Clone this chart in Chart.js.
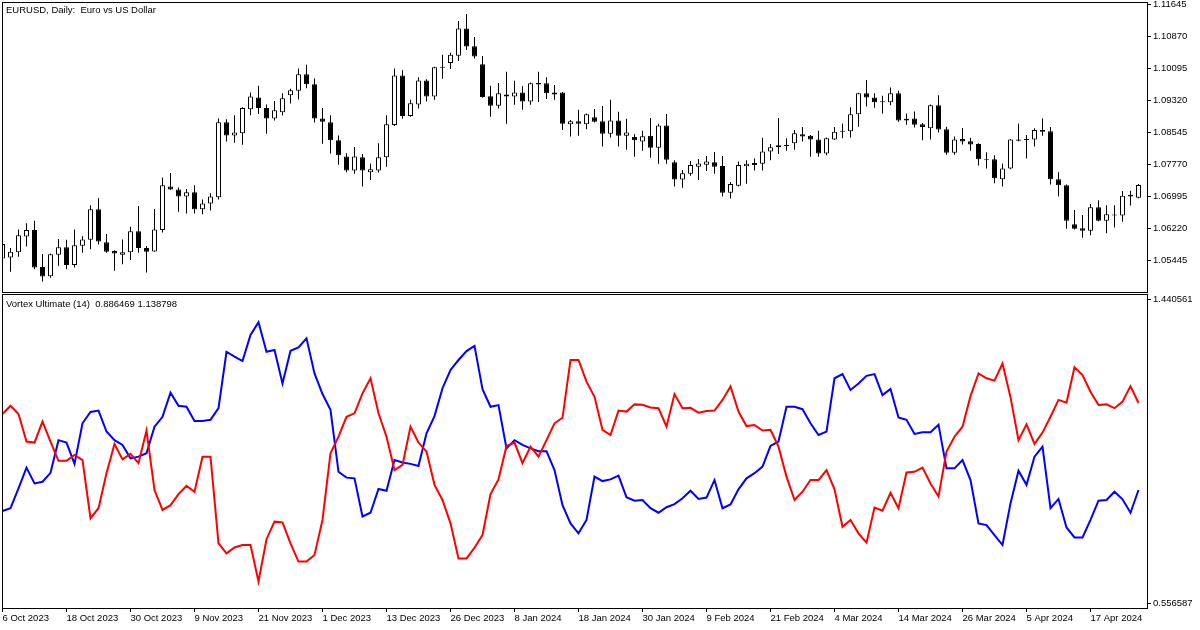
<!DOCTYPE html>
<html>
<head>
<meta charset="utf-8">
<title>EURUSD Daily with Vortex</title>
<script src="https://cdn.jsdelivr.net/npm/chart.js@4.4.1/dist/chart.umd.min.js"></script>
<style>
  html, body { margin: 0; padding: 0; background: #fff; }
  #wrap { position: relative; width: 1200px; height: 630px; overflow: hidden; background: #fff; }
  canvas { position: absolute; left: 0; }
  #priceChart { top: 0; }
  #vortexChart { top: 293px; }
</style>
</head>
<body>
<div id="wrap">
  <canvas id="priceChart" width="1200" height="293"></canvas>
  <canvas id="vortexChart" width="1200" height="337"></canvas>
</div>
<script>
// EURUSD daily bars, 6 Oct 2023 .. late Apr 2024
const opens = [
  1.0550, 1.0552, 1.0565, 1.0603, 1.0619, 1.0529, 1.0507, 1.0559, 1.0577, 1.0534,
  1.0581, 1.0595, 1.0669, 1.0589, 1.0568, 1.0559, 1.0565, 1.0616, 1.0575, 1.0567,
  1.0619, 1.0724, 1.0717, 1.0700, 1.0710, 1.0669, 1.0683, 1.0698, 1.0880, 1.0848,
  1.0853, 1.0911, 1.0940, 1.0914, 1.0889, 1.0904, 1.0945, 1.0956, 1.0996, 1.0972,
  1.0889, 1.0880, 1.0836, 1.0797, 1.0763, 1.0795, 1.0759, 1.0763, 1.0795, 1.0873,
  1.0993, 1.0895, 1.0923, 1.0981, 1.0942, 1.1012, 1.1023, 1.1041, 1.1107, 1.1064,
  1.1020, 1.0943, 1.0920, 1.0947, 1.0942, 1.0952, 1.0930, 1.0975, 1.0974, 1.0947,
  1.0952, 1.0875, 1.0882, 1.0875, 1.0892, 1.0882, 1.0852, 1.0884, 1.0847, 1.0844,
  1.0833, 1.0847, 1.0818, 1.0872, 1.0783, 1.0741, 1.0755, 1.0772, 1.0777, 1.0783,
  1.0774, 1.0709, 1.0726, 1.0773, 1.0776, 1.0779, 1.0809, 1.0819, 1.0824, 1.0829,
  1.0851, 1.0847, 1.0838, 1.0804, 1.0838, 1.0857, 1.0858, 1.0899, 1.0950, 1.0940,
  1.0928, 1.0928, 1.0950, 1.0888, 1.0889, 1.0875, 1.0865, 1.0921, 1.0863, 1.0806,
  1.0839, 1.0834, 1.0827, 1.0790, 1.0790, 1.0742, 1.0768, 1.0838, 1.0837, 1.0838,
  1.0861, 1.0858, 1.0742, 1.0727, 1.0633, 1.0623, 1.0617, 1.0674, 1.0641, 1.0654,
  1.0654, 1.0704, 1.0697
];
const highs = [
  1.0588, 1.0575, 1.0620, 1.0635, 1.0641, 1.0561, 1.0562, 1.0597, 1.0595, 1.0620,
  1.0604, 1.0679, 1.0696, 1.0609, 1.0570, 1.0596, 1.0627, 1.0677, 1.0580, 1.0670,
  1.0746, 1.0757, 1.0722, 1.0718, 1.0727, 1.0693, 1.0708, 1.0889, 1.0887, 1.0897,
  1.0916, 1.0952, 1.0968, 1.0923, 1.0931, 1.0950, 1.0961, 1.1010, 1.1019, 1.0986,
  1.0914, 1.0897, 1.0848, 1.0805, 1.0820, 1.0803, 1.0780, 1.0829, 1.0897, 1.1010,
  1.1006, 1.0934, 1.0989, 1.0984, 1.1014, 1.1043, 1.1048, 1.1125, 1.1142, 1.1086,
  1.1040, 1.0968, 1.0975, 1.1002, 1.0980, 1.0967, 1.0976, 1.1002, 1.0989, 1.0970,
  1.0953, 1.0885, 1.0910, 1.0901, 1.0912, 1.0919, 1.0934, 1.0905, 1.0888, 1.0851,
  1.0859, 1.0890, 1.0876, 1.0900, 1.0788, 1.0764, 1.0786, 1.0791, 1.0798, 1.0808,
  1.0798, 1.0735, 1.0785, 1.0788, 1.0792, 1.0842, 1.0827, 1.0890, 1.0841, 1.0861,
  1.0868, 1.0849, 1.0859, 1.0843, 1.0868, 1.0877, 1.0916, 1.0951, 1.0982, 1.0950,
  1.0944, 1.0964, 1.0956, 1.0901, 1.0906, 1.0878, 1.0923, 1.0945, 1.0869, 1.0845,
  1.0866, 1.0842, 1.0829, 1.0807, 1.0800, 1.0780, 1.0839, 1.0877, 1.0849, 1.0865,
  1.0889, 1.0868, 1.0759, 1.0729, 1.0667, 1.0655, 1.0682, 1.0691, 1.0679, 1.0679,
  1.0713, 1.0714, 1.0730
];
const lows = [
  1.0548, 1.0518, 1.0554, 1.0579, 1.0524, 1.0494, 1.0503, 1.0532, 1.0524, 1.0528,
  1.0564, 1.0572, 1.0584, 1.0564, 1.0520, 1.0536, 1.0546, 1.0564, 1.0516, 1.0566,
  1.0613, 1.0716, 1.0663, 1.0659, 1.0659, 1.0657, 1.0666, 1.0693, 1.0833, 1.0830,
  1.0825, 1.0897, 1.0900, 1.0852, 1.0884, 1.0896, 1.0925, 1.0935, 1.0962, 1.0879,
  1.0828, 1.0804, 1.0777, 1.0759, 1.0755, 1.0724, 1.0740, 1.0758, 1.0772, 1.0871,
  1.0888, 1.0893, 1.0913, 1.0930, 1.0934, 1.0985, 1.1009, 1.1028, 1.1055, 1.1034,
  1.0939, 1.0893, 1.0913, 1.0876, 1.0922, 1.0910, 1.0922, 1.0929, 1.0936, 1.0934,
  1.0861, 1.0845, 1.0847, 1.0863, 1.0879, 1.0821, 1.0843, 1.0821, 1.0813, 1.0796,
  1.0811, 1.0794, 1.0779, 1.0779, 1.0724, 1.0721, 1.0750, 1.0740, 1.0762, 1.0755,
  1.0700, 1.0695, 1.0724, 1.0731, 1.0763, 1.0763, 1.0788, 1.0803, 1.0811, 1.0813,
  1.0833, 1.0796, 1.0796, 1.0800, 1.0837, 1.0841, 1.0843, 1.0869, 1.0918, 1.0915,
  1.0901, 1.0921, 1.0881, 1.0874, 1.0867, 1.0836, 1.0838, 1.0855, 1.0801, 1.0801,
  1.0826, 1.0811, 1.0775, 1.0768, 1.0732, 1.0724, 1.0766, 1.0834, 1.0792, 1.0821,
  1.0847, 1.0729, 1.0700, 1.0622, 1.0620, 1.0600, 1.0606, 1.0640, 1.0611, 1.0625,
  1.0639, 1.0678, 1.0696
];
const closes = [
  1.0585, 1.0566, 1.0606, 1.0619, 1.0528, 1.0506, 1.0560, 1.0577, 1.0534, 1.0582,
  1.0596, 1.0669, 1.0591, 1.0566, 1.0562, 1.0565, 1.0616, 1.0575, 1.0566, 1.0620,
  1.0727, 1.0717, 1.0700, 1.0710, 1.0669, 1.0683, 1.0700, 1.0880, 1.0848, 1.0855,
  1.0914, 1.0942, 1.0914, 1.0889, 1.0909, 1.0938, 1.0957, 1.0996, 1.0972, 1.0889,
  1.0881, 1.0836, 1.0800, 1.0763, 1.0797, 1.0763, 1.0766, 1.0795, 1.0875, 1.0993,
  1.0895, 1.0926, 1.0981, 1.0942, 1.1013, 1.1013, 1.1043, 1.1107, 1.1063, 1.1039,
  1.0941, 1.0920, 1.0950, 1.0942, 1.0952, 1.0930, 1.0974, 1.0971, 1.0950, 1.0952,
  1.0876, 1.0882, 1.0876, 1.0899, 1.0881, 1.0852, 1.0884, 1.0847, 1.0855, 1.0836,
  1.0846, 1.0818, 1.0872, 1.0789, 1.0741, 1.0756, 1.0776, 1.0780, 1.0785, 1.0772,
  1.0709, 1.0730, 1.0776, 1.0779, 1.0781, 1.0809, 1.0819, 1.0824, 1.0822, 1.0853,
  1.0845, 1.0838, 1.0804, 1.0841, 1.0857, 1.0859, 1.0899, 1.0950, 1.0940, 1.0928,
  1.0929, 1.0950, 1.0884, 1.0884, 1.0874, 1.0868, 1.0921, 1.0862, 1.0806, 1.0838,
  1.0833, 1.0826, 1.0790, 1.0788, 1.0744, 1.0768, 1.0838, 1.0835, 1.0839, 1.0861,
  1.0857, 1.0742, 1.0727, 1.0641, 1.0622, 1.0617, 1.0674, 1.0641, 1.0657, 1.0656,
  1.0702, 1.0700, 1.0728
];

// Vortex Ultimate (14): blue and red lines
const vortexBlue = [
  0.825, 0.833, 0.891, 0.951, 0.905, 0.910, 0.936, 1.031, 1.024, 0.962,
  1.080, 1.113, 1.117, 1.056, 1.031, 1.017, 0.978, 0.983, 0.993, 1.070,
  1.099, 1.169, 1.131, 1.128, 1.087, 1.087, 1.090, 1.124, 1.288, 1.274,
  1.261, 1.337, 1.374, 1.288, 1.293, 1.196, 1.291, 1.301, 1.327, 1.225,
  1.165, 1.119, 0.939, 0.922, 0.920, 0.809, 0.820, 0.889, 0.884, 0.973,
  0.966, 0.962, 0.956, 1.051, 1.101, 1.182, 1.235, 1.264, 1.290, 1.305,
  1.179, 1.128, 1.133, 1.007, 1.031, 1.017, 1.007, 0.999, 0.999, 0.944,
  0.842, 0.789, 0.760, 0.799, 0.925, 0.912, 0.917, 0.928, 0.865, 0.855,
  0.857, 0.833, 0.820, 0.836, 0.845, 0.862, 0.884, 0.860, 0.864, 0.915,
  0.833, 0.844, 0.888, 0.920, 0.935, 0.954, 1.014, 1.027, 1.128, 1.128,
  1.121, 1.080, 1.046, 1.056, 1.211, 1.223, 1.177, 1.196, 1.218, 1.223,
  1.162, 1.180, 1.097, 1.090, 1.049, 1.054, 1.054, 1.076, 0.949, 0.949,
  0.973, 0.915, 0.789, 0.784, 0.755, 0.726, 0.847, 0.942, 0.901, 0.983,
  1.012, 0.833, 0.860, 0.777, 0.748, 0.748, 0.799, 0.855, 0.857, 0.881,
  0.859, 0.820, 0.886
];
const vortexRed = [
  1.107, 1.131, 1.107, 1.027, 1.024, 1.085, 1.027, 0.971, 0.971, 0.988,
  0.973, 0.804, 0.833, 0.935, 1.020, 0.975, 0.991, 0.964, 1.059, 0.886,
  0.828, 0.842, 0.874, 0.898, 0.881, 0.983, 0.983, 0.731, 0.702, 0.719,
  0.726, 0.726, 0.620, 0.743, 0.794, 0.792, 0.731, 0.678, 0.678, 0.697,
  0.799, 0.993, 1.041, 1.099, 1.109, 1.167, 1.211, 1.109, 1.041, 0.944,
  0.959, 1.070, 1.024, 0.998, 0.901, 0.857, 0.789, 0.687, 0.687, 0.718,
  0.755, 0.874, 0.917, 1.014, 1.024, 0.964, 1.012, 0.983, 1.031, 1.080,
  1.096, 1.264, 1.264, 1.201, 1.157, 1.061, 1.046, 1.117, 1.114, 1.135,
  1.134, 1.126, 1.124, 1.070, 1.165, 1.124, 1.125, 1.111, 1.116, 1.117,
  1.148, 1.187, 1.114, 1.072, 1.075, 1.059, 1.061, 1.012, 0.925, 0.857,
  0.881, 0.915, 0.915, 0.944, 0.888, 0.779, 0.799, 0.760, 0.733, 0.835,
  0.826, 0.878, 0.833, 0.937, 0.939, 0.951, 0.905, 0.867, 0.998, 1.041,
  1.070, 1.159, 1.225, 1.211, 1.204, 1.254, 1.156, 1.031, 1.077, 1.020,
  1.053, 1.099, 1.148, 1.140, 1.243, 1.220, 1.172, 1.133, 1.135, 1.124,
  1.143, 1.188, 1.139
];

// axis labels
const dateLabels = [
  '6 Oct 2023', '18 Oct 2023', '30 Oct 2023', '9 Nov 2023', '21 Nov 2023', '1 Dec 2023',
  '13 Dec 2023', '26 Dec 2023', '8 Jan 2024', '18 Jan 2024', '30 Jan 2024', '9 Feb 2024',
  '21 Feb 2024', '4 Mar 2024', '14 Mar 2024', '26 Mar 2024', '5 Apr 2024', '17 Apr 2024'
];
const barsPerLabel = 8;
const priceTicks = [1.11645, 1.10870, 1.10095, 1.09320, 1.08545, 1.07770, 1.06995, 1.06220, 1.05445];
const vortexTicks = [1.440561, 0.556587];

const chartTitle = 'EURUSD, Daily:  Euro vs US Dollar';
const indicatorTitle = 'Vortex Ultimate (14)  0.886469 1.138798';

const FONT = '"Liberation Sans", Arial, sans-serif';
Chart.defaults.font.family = FONT;
Chart.defaults.font.size = 9.5;
Chart.defaults.color = '#000';

// bar index range (8 px per bar)
const xMin = -0.0625;
const xMax = 143.0625;

// frame around each panel plus its caption
const panelFrame = {
  id: 'panelFrame',
  afterDatasetsDraw(chart, args, opts) {
    const { ctx, chartArea: a } = chart;
    ctx.save();
    ctx.strokeStyle = '#000';
    ctx.lineWidth = 1;
    ctx.strokeRect(a.left + 0.5, a.top + 0.5, a.right - a.left, a.bottom - a.top);
    ctx.fillStyle = '#000';
    ctx.font = '9.5px ' + FONT;
    ctx.textBaseline = 'alphabetic';
    ctx.textAlign = 'left';
    ctx.fillText(opts.text, a.left + 4, a.top + opts.textY);
    ctx.restore();
  }
};

function rightAxis(min, max, ticks, digits) {
  return {
    position: 'right',
    min: min,
    max: max,
    afterBuildTicks: s => { s.ticks = ticks.map(v => ({ value: v })); },
    afterFit: s => { s.width = 53; s.paddingTop = 0; s.paddingBottom = 0; },
    grid: { drawOnChartArea: false, drawTicks: true, tickLength: 4, color: '#000' },
    border: { display: false },
    ticks: { padding: 2, autoSkip: false, callback: v => v.toFixed(digits) }
  };
}

const candleBodies = opens.map((o, i) => ({ x: i, y: [o, closes[i]] }));
const candleWicks = highs.map((h, i) => ({ x: i, y: [lows[i], h] }));
const bodyColors = opens.map((o, i) => closes[i] >= o ? '#ffffff' : '#000000');

new Chart(document.getElementById('priceChart'), {
  type: 'bar',
  data: {
    datasets: [{
      label: 'body',
      data: candleBodies,
      backgroundColor: bodyColors,
      borderColor: '#000',
      borderWidth: 1,
      borderSkipped: false,
      barThickness: 5,
      maxBarThickness: 5,
      minBarLength: 1,
      grouped: false,
      inflateAmount: 0,
      order: 0
    }, {
      label: 'wick',
      data: candleWicks,
      backgroundColor: '#000',
      borderWidth: 0,
      barThickness: 1,
      maxBarThickness: 1,
      grouped: false,
      inflateAmount: 0,
      order: 1
    }]
  },
  options: {
    responsive: false,
    animation: false,
    devicePixelRatio: 1,
    layout: { padding: { left: 2, top: 2, right: 0, bottom: 1 } },
    scales: {
      x: { type: 'linear', min: xMin, max: xMax, offset: false, display: false },
      y: rightAxis(1.04687, 1.11710, priceTicks, 5)
    },
    plugins: {
      legend: { display: false },
      tooltip: { enabled: false },
      panelFrame: { text: chartTitle, textY: 11 }
    }
  },
  plugins: [panelFrame]
});

new Chart(document.getElementById('vortexChart'), {
  type: 'line',
  data: {
    datasets: [{
      label: 'blue',
      data: vortexBlue.map((v, i) => ({ x: i, y: v })),
      borderColor: '#0000ff',
      borderWidth: 2,
      pointRadius: 0,
      tension: 0,
      order: 1
    }, {
      label: 'red',
      data: vortexRed.map((v, i) => ({ x: i, y: v })),
      borderColor: '#ff0000',
      borderWidth: 2,
      pointRadius: 0,
      tension: 0,
      order: 0
    }]
  },
  options: {
    responsive: false,
    animation: false,
    devicePixelRatio: 1,
    layout: { padding: { left: 2, top: 1, right: 0, bottom: 0 } },
    scales: {
      x: {
        type: 'linear',
        min: xMin,
        max: xMax,
        offset: false,
        afterBuildTicks: s => { s.ticks = dateLabels.map((d, k) => ({ value: k * barsPerLabel })); },
        afterFit: s => { s.height = 22; s.paddingLeft = 0; s.paddingRight = 0; },
        grid: { drawOnChartArea: false, drawTicks: true, tickLength: 4, color: '#000' },
        border: { display: false },
        ticks: {
          align: 'start',
          autoSkip: false,
          maxRotation: 0,
          padding: 1,
          callback: (v, idx) => dateLabels[idx]
        }
      },
      y: rightAxis(0.54292, 1.45597, vortexTicks, 6)
    },
    plugins: {
      legend: { display: false },
      tooltip: { enabled: false },
      panelFrame: { text: indicatorTitle, textY: 13 }
    }
  },
  plugins: [panelFrame]
});
</script>
</body>
</html>
